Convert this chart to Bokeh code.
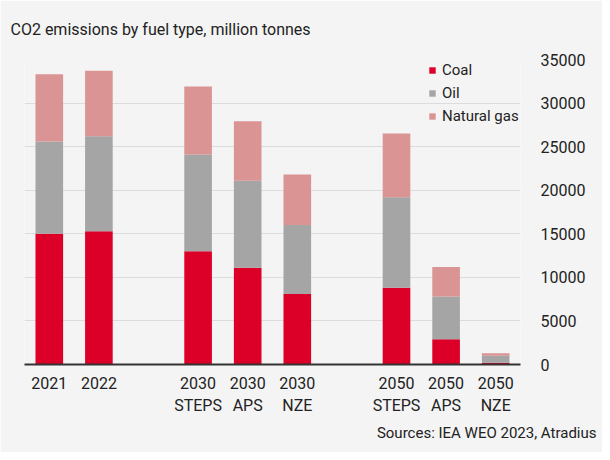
from bokeh.plotting import figure
from bokeh.models import (ColumnDataSource, FactorRange, Range1d, FixedTicker,
                          Legend, LegendItem, Title, NumeralTickFormatter)
from bokeh.embed import file_html
from bokeh.resources import INLINE

# ---- data ----
categories = ["2021", "2022", "2030\nSTEPS", "2030\nAPS", "2030\nNZE",
              "2050\nSTEPS", "2050\nAPS", "2050\nNZE"]
coal = [15000, 15300, 13000, 11100, 8100, 8800, 2900, 200]
oil = [10600, 10900, 11100, 10000, 7900, 10400, 4900, 800]
gas = [7700, 7500, 7800, 6800, 5800, 7300, 3400, 300]
series = ["Coal", "Oil", "Natural gas"]
colors = ["#dc0028", "#a5a5a5", "#d99493"]
y_ticks = [0, 5000, 10000, 15000, 20000, 25000, 30000, 35000]
title_text = "CO2 emissions by fuel type, million tonnes"
source_text = "Sources: IEA WEO 2023, Atradius"

# factor range with blank spacer slots between scenario groups
factors = categories[:2] + [" "] + categories[2:5] + ["  "] + categories[5:]

FONT = "Roboto"
BG = "#f4f4f4"
TXT = "#222222"

p = figure(x_range=FactorRange(factors=factors, range_padding=0, factor_padding=0),
           y_range=Range1d(0, 35000),
           width=602, height=452, output_backend="svg", toolbar_location=None,
           y_axis_location="right",
           background_fill_color=BG, border_fill_color=BG, outline_line_color=None,
           min_border_left=24, min_border_right=82, min_border_top=58,
           min_border_bottom=88)

src = ColumnDataSource(dict(cat=categories, Coal=coal, Oil=oil, **{"Natural gas": gas}))
rs = p.vbar_stack(series, x="cat", width=0.557, source=src, color=colors,
                  line_color=None)

legend = Legend(items=[LegendItem(label=s, renderers=[r]) for s, r in zip(series, rs)],
                location=(404, 238), orientation="vertical",
                glyph_width=8, glyph_height=8, label_height=20, spacing=3,
                label_standoff=6, padding=0, margin=0,
                border_line_color=None, background_fill_alpha=0,
                label_text_font=FONT, label_text_font_size="15px",
                label_text_color=TXT)
p.add_layout(legend)

# axes
p.xaxis.axis_line_color = "#333333"
p.xaxis.axis_line_width = 2
p.xaxis.major_tick_line_color = None
p.xaxis.minor_tick_line_color = None
p.xaxis.major_label_standoff = 3
p.xaxis.major_label_text_font = FONT
p.xaxis.major_label_text_font_size = "16px"
p.xaxis.major_label_text_color = TXT
p.xaxis.major_label_text_line_height = 1.2

p.yaxis.ticker = FixedTicker(ticks=y_ticks)
p.yaxis.formatter = NumeralTickFormatter(format="0")
p.yaxis.axis_line_color = None
p.yaxis.major_tick_line_color = None
p.yaxis.minor_tick_line_color = None
p.yaxis.major_label_standoff = 14
p.yaxis.major_label_text_font = FONT
p.yaxis.major_label_text_font_size = "16px"
p.yaxis.major_label_text_color = TXT

p.xgrid.grid_line_color = None
p.ygrid.ticker = FixedTicker(ticks=y_ticks[1:])
p.ygrid.grid_line_color = "#dcdcdc"
p.ygrid.grid_line_width = 1

# title and source note
p.title.text = title_text
p.title.align = "left"
p.title.vertical_align = "top"
p.title.offset = -14
p.title.standoff = 38
p.title.text_font = FONT
p.title.text_font_size = "16px"
p.title.text_font_style = "normal"
p.title.text_color = TXT

p.add_layout(Title(text=source_text, align="right", offset=-76, standoff=6,
                   text_font=FONT, text_font_size="15px", text_font_style="normal",
                   text_color=TXT), "below")

open("out.html", "w").write(file_html(p, INLINE))
